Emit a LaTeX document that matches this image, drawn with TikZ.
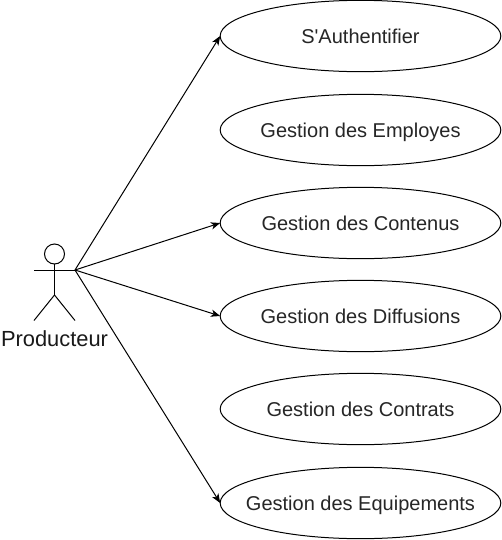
\documentclass[tikz,border=0pt]{standalone}
\usepackage{fontspec}
\setmainfont{Liberation Sans}
\newfontfamily\plainsans{Liberation Sans}
\usetikzlibrary{shapes.geometric,arrows.meta}
\newcommand{\uctext}[1]{\makebox[0pt]{\raisebox{-0.36em}[0pt][0pt]{#1}}}
\tikzset{
  px/.style={x=0.75pt,y=-0.75pt},
  usecase/.style={ellipse,draw=black,line width=0.75pt,fill=white,minimum width=210.5pt,minimum height=53.5pt,inner sep=0pt,outer sep=0pt,font=\plainsans\fontsize{15pt}{18pt}\selectfont,text=black!85},
  actorline/.style={draw=black,line width=0.75pt},
  assoc/.style={draw=black,line width=0.75pt,-{Stealth[length=7pt,width=5.5pt,inset=2pt]},shorten >=0pt},
  actorlabel/.style={inner sep=0pt,font=\fontsize{16.4pt}{20pt}\selectfont,text=black!90}
}
\begin{document}
\begin{tikzpicture}[px]
\useasboundingbox (0,0) rectangle (502,540);
\node[usecase] (e1) at (360.5,36) {\uctext{S'Authentifier}};
\node[usecase] (e2) at (360.5,130) {\uctext{Gestion des Employes}};
\node[usecase] (e3) at (360.5,223) {\uctext{Gestion des Contenus}};
\node[usecase] (e4) at (360.5,316) {\uctext{Gestion des Diffusions}};
\node[usecase] (e5) at (360.5,409) {\uctext{Gestion des Contrats}};
\node[usecase] (e6) at (360.5,503) {\uctext{Gestion des Equipements}};
\node[circle,actorline,minimum size=15pt,inner sep=0pt,outer sep=0pt] (head) at (54.5,254) {};
\coordinate (hip) at (54.5,295);
\coordinate (handl) at (34,270);
\coordinate (handr) at (75,270);
\coordinate (footl) at (34,320.5);
\coordinate (footr) at (75,320.5);
\draw[actorline] (head.south) -- (hip);
\draw[actorline] (handl) -- (handr);
\draw[actorline] (footl) -- (hip) -- (footr);
\node[actorlabel] (actorname) at (54.5,339) {Producteur};
\draw[assoc] (handr) -- (e1.west);
\draw[assoc] (handr) -- (e3.west);
\draw[assoc] (handr) -- (e4.west);
\draw[assoc] (handr) -- (e6.west);
\end{tikzpicture}
\end{document}
